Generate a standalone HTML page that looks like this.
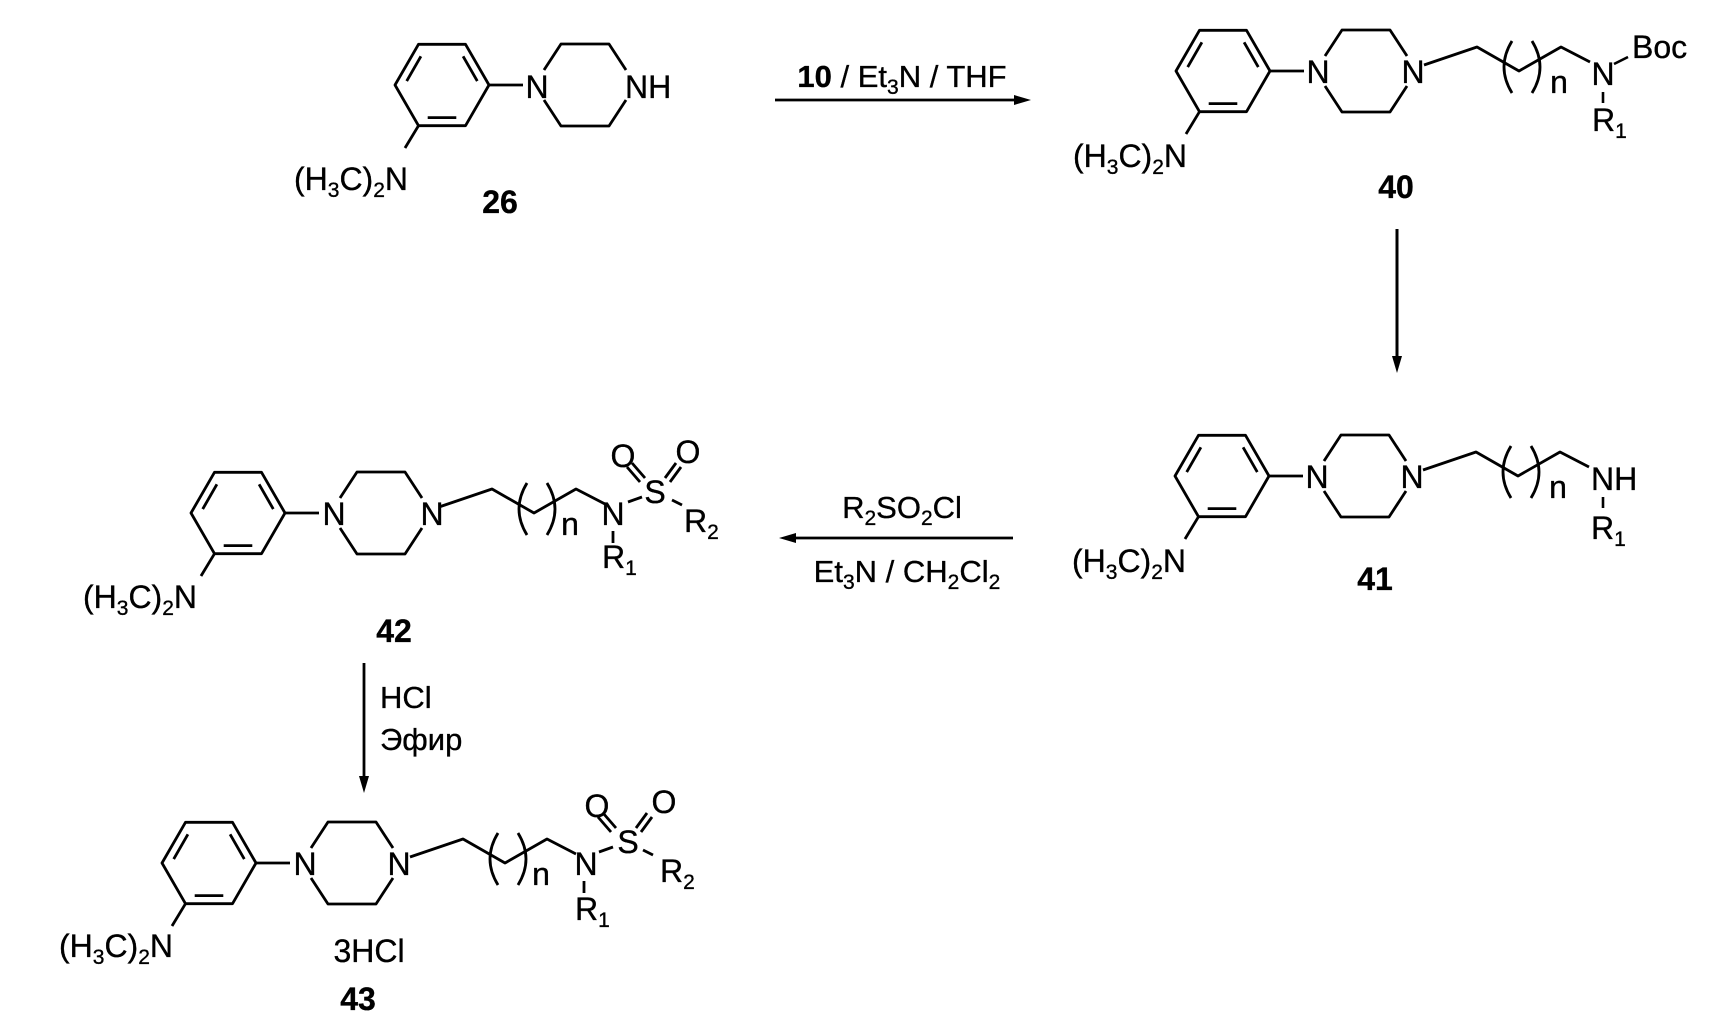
<!DOCTYPE html>
<html><head><meta charset="utf-8">
<style>
html,body{margin:0;padding:0;background:#fff;}
svg{display:block;}
text{font-family:"Liberation Sans",Arial,sans-serif;fill:#000;stroke:#000;stroke-width:0.35;}
.m{font-size:32px;}
.r{font-size:31px;}
.s{font-size:21px;}
</style></head>
<body>
<svg width="1710" height="1028" viewBox="0 0 1710 1028" xmlns="http://www.w3.org/2000/svg">
<defs>
<g id="core" fill="none" stroke="#000" stroke-width="2.8" stroke-linejoin="round">
  <polygon points="-23.5,-40.7 23.5,-40.7 47,0 23.5,40.7 -23.5,40.7 -47,0"/>
  <line x1="-35.3" y1="-3.9" x2="-21.1" y2="-28.7"/>
  <line x1="21.1" y1="-28.7" x2="35.3" y2="-3.9"/>
  <line x1="-14.3" y1="32.6" x2="14.3" y2="32.6"/>
  <line x1="47" y1="0" x2="81" y2="0"/>
  <polyline points="102,-15 119,-41 167,-41 184,-15"/>
  <polyline points="102,15 119,41 167,41 184,15"/>
  <line x1="-23.5" y1="40.7" x2="-37" y2="63"/>
</g>
<g id="chain" fill="none" stroke="#000" stroke-width="2.8" stroke-linejoin="round">
  <polyline points="201,-6 254,-24 296,0 338,-24 367,-9"/>
  <path d="M289,-30 Q273,-4 289,22"/>
  <path d="M309,-30 Q325,-4 309,22"/>
</g>
<g id="sulf" fill="none" stroke="#000" stroke-width="2.8">
  <line x1="390" y1="-11" x2="404" y2="-16"/>
  <line x1="407" y1="-35" x2="394" y2="-50"/>
  <line x1="402" y1="-31" x2="389" y2="-46"/>
  <line x1="427" y1="-35" x2="438" y2="-50"/>
  <line x1="432" y1="-31" x2="443" y2="-46"/>
  <line x1="434" y1="-13" x2="444" y2="-8"/>
  <line x1="375" y1="18" x2="375" y2="30"/>
</g>
</defs>

<!-- 26 -->
<g transform="translate(442,85)">
  <use href="#core"/>
  <text class="m" x="95" y="13" text-anchor="middle">N</text>
  <text class="m" x="183" y="13">NH</text>
  <text class="m" x="-34" y="105" text-anchor="end">(H<tspan class="s" dy="7">3</tspan><tspan dy="-7">C)</tspan><tspan class="s" dy="7">2</tspan><tspan dy="-7">N</tspan></text>
  <text class="m" x="58" y="128" text-anchor="middle" font-weight="bold">26</text>
</g>

<!-- 40 -->
<g transform="translate(1223,71)">
  <use href="#core"/>
  <use href="#chain"/>
  <text class="m" x="95" y="12" text-anchor="middle">N</text>
  <text class="m" x="190" y="12" text-anchor="middle">N</text>
  <text class="m" x="336" y="22" text-anchor="middle">n</text>
  <text class="m" x="380" y="14" text-anchor="middle">N</text>
  <line x1="391" y1="-7" x2="405" y2="-14" stroke="#000" stroke-width="2.6"/>
  <text class="m" x="409" y="-13">Boc</text>
  <line x1="380" y1="21" x2="380" y2="32" stroke="#000" stroke-width="2.6"/>
  <text class="m" x="369" y="60">R<tspan class="s" dy="7">1</tspan></text>
  <text class="m" x="-36" y="96" text-anchor="end">(H<tspan class="s" dy="7">3</tspan><tspan dy="-7">C)</tspan><tspan class="s" dy="7">2</tspan><tspan dy="-7">N</tspan></text>
  <text class="m" x="173" y="127" text-anchor="middle" font-weight="bold">40</text>
</g>

<!-- 41 -->
<g transform="translate(1222,476)">
  <use href="#core"/>
  <use href="#chain"/>
  <text class="m" x="95" y="12" text-anchor="middle">N</text>
  <text class="m" x="190" y="12" text-anchor="middle">N</text>
  <text class="m" x="336" y="22" text-anchor="middle">n</text>
  <text class="m" x="369" y="14">NH</text>
  <line x1="381" y1="21" x2="381" y2="32" stroke="#000" stroke-width="2.6"/>
  <text class="m" x="369" y="63">R<tspan class="s" dy="7">1</tspan></text>
  <text class="m" x="-36" y="96" text-anchor="end">(H<tspan class="s" dy="7">3</tspan><tspan dy="-7">C)</tspan><tspan class="s" dy="7">2</tspan><tspan dy="-7">N</tspan></text>
  <text class="m" x="153" y="114" text-anchor="middle" font-weight="bold">41</text>
</g>

<!-- 42 -->
<g transform="translate(238,513)">
  <use href="#core"/>
  <use href="#chain"/>
  <use href="#sulf"/>
  <text class="m" x="96" y="12" text-anchor="middle">N</text>
  <text class="m" x="194" y="12" text-anchor="middle">N</text>
  <text class="m" x="332" y="22" text-anchor="middle">n</text>
  <text class="m" x="375" y="12" text-anchor="middle">N</text>
  <text class="m" x="417" y="-10" text-anchor="middle">S</text>
  <text class="m" x="385" y="-46" text-anchor="middle">O</text>
  <text class="m" x="450" y="-50" text-anchor="middle">O</text>
  <text class="m" x="446" y="19">R<tspan class="s" dy="7">2</tspan></text>
  <text class="m" x="364" y="55">R<tspan class="s" dy="7">1</tspan></text>
  <text class="m" x="-41" y="95" text-anchor="end">(H<tspan class="s" dy="7">3</tspan><tspan dy="-7">C)</tspan><tspan class="s" dy="7">2</tspan><tspan dy="-7">N</tspan></text>
  <text class="m" x="156" y="129" text-anchor="middle" font-weight="bold">42</text>
</g>

<!-- 43 -->
<g transform="translate(209,863)">
  <use href="#core"/>
  <use href="#chain"/>
  <use href="#sulf"/>
  <text class="m" x="96" y="12" text-anchor="middle">N</text>
  <text class="m" x="190" y="12" text-anchor="middle">N</text>
  <text class="m" x="332" y="22" text-anchor="middle">n</text>
  <text class="m" x="377" y="12" text-anchor="middle">N</text>
  <text class="m" x="419" y="-10" text-anchor="middle">S</text>
  <text class="m" x="388" y="-46" text-anchor="middle">O</text>
  <text class="m" x="455" y="-50" text-anchor="middle">O</text>
  <text class="m" x="451" y="19">R<tspan class="s" dy="7">2</tspan></text>
  <text class="m" x="366" y="57">R<tspan class="s" dy="7">1</tspan></text>
  <text class="m" x="-36" y="94" text-anchor="end">(H<tspan class="s" dy="7">3</tspan><tspan dy="-7">C)</tspan><tspan class="s" dy="7">2</tspan><tspan dy="-7">N</tspan></text>
  <text class="m" x="160" y="99" text-anchor="middle">3HCl</text>
  <text class="m" x="149" y="147" text-anchor="middle" font-weight="bold">43</text>
</g>

<!-- Arrow 1 -->
<line x1="775" y1="100" x2="1018" y2="100" stroke="#000" stroke-width="2.8"/>
<polygon points="1031,100 1014,95 1014,105" fill="#000"/>
<text class="r" x="902" y="87" text-anchor="middle"><tspan font-weight="bold">10</tspan> / Et<tspan class="s" dy="7">3</tspan><tspan dy="-7">N / THF</tspan></text>

<!-- Arrow 40->41 -->
<line x1="1397" y1="229" x2="1397" y2="360" stroke="#000" stroke-width="3"/>
<polygon points="1397,373 1392,356 1402,356" fill="#000"/>

<!-- Arrow 2 -->
<line x1="792" y1="538" x2="1013" y2="538" stroke="#000" stroke-width="2.8"/>
<polygon points="779,538 796,533 796,543" fill="#000"/>
<text class="r" x="902" y="518" text-anchor="middle">R<tspan class="s" dy="7">2</tspan><tspan dy="-7">SO</tspan><tspan class="s" dy="7">2</tspan><tspan dy="-7">Cl</tspan></text>
<text class="r" x="907" y="582" text-anchor="middle">Et<tspan class="s" dy="7">3</tspan><tspan dy="-7">N / CH</tspan><tspan class="s" dy="7">2</tspan><tspan dy="-7">Cl</tspan><tspan class="s" dy="7">2</tspan></text>

<!-- Arrow 3 -->
<line x1="364" y1="663" x2="364" y2="780" stroke="#000" stroke-width="2.8"/>
<polygon points="364,793 359,776 369,776" fill="#000"/>
<text class="r" x="380" y="708">HCl</text>
<text class="r" x="380" y="750">Эфир</text>
</svg>
</body></html>
